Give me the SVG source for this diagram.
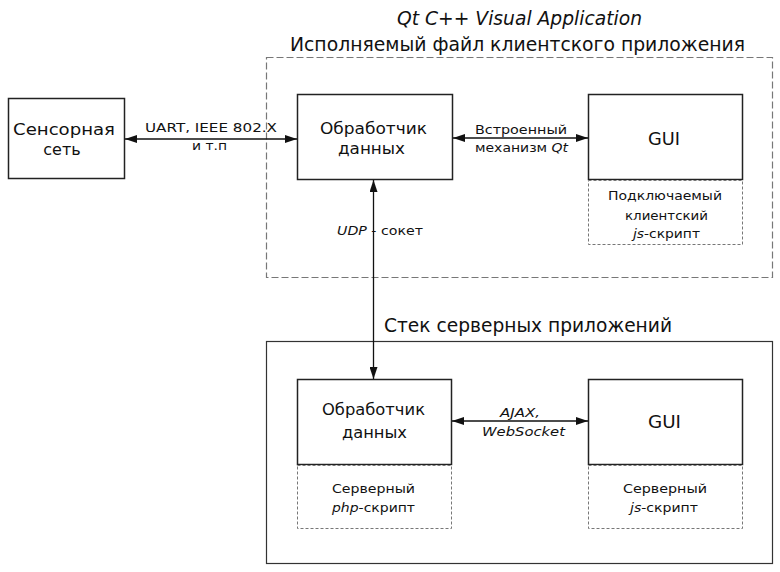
<svg xmlns="http://www.w3.org/2000/svg" width="780" height="572" viewBox="0 0 780 572">
<defs>
<style>
text{font-family:"DejaVu Sans","Liberation Sans",Arial,sans-serif;fill:#111;text-anchor:middle}
.t{font-size:20px}
.n{font-size:16px}
.s{font-size:12.5px}
.g{font-size:17px}
.box{fill:#fff;stroke:#222;stroke-width:1.5}
.sub{fill:#fff;stroke:#777;stroke-width:1;stroke-dasharray:3,2}
.frame{fill:none;stroke:#777;stroke-width:1.2;stroke-dasharray:7,3}
.frame2{fill:none;stroke:#333;stroke-width:1.2}
.con{fill:none;stroke:#111;stroke-width:1.3}
</style>
<marker id="ah" viewBox="0 0 12 8" refX="12" refY="4" markerWidth="12" markerHeight="8" markerUnits="userSpaceOnUse" orient="auto-start-reverse">
<path d="M0,0 L12,4 L0,8 Z" fill="#111"/>
</marker>
</defs>
<rect width="780" height="572" fill="#fff"/>

<g id="client-frame">
<rect class="frame" x="266.5" y="57.5" width="506" height="220"/>
<text class="t" x="519.5" y="25" font-style="italic" textLength="245" lengthAdjust="spacingAndGlyphs">Qt C++ Visual Application</text>
<text class="t" x="517.5" y="51" textLength="455" lengthAdjust="spacingAndGlyphs">Исполняемый файл клиентского приложения</text>
</g>

<g id="server-frame">
<rect class="frame2" x="266.5" y="341.5" width="506" height="222"/>
<text class="t" x="528" y="332" textLength="288" lengthAdjust="spacingAndGlyphs">Стек серверных приложений</text>
</g>

<g id="sensor">
<rect class="box" x="8.5" y="98.5" width="116" height="80"/>
<text class="n" x="64" y="135" textLength="102" lengthAdjust="spacingAndGlyphs">Сенсорная</text>
<text class="n" x="62" y="155">сеть</text>
</g>

<g id="client-handler">
<rect class="box" x="297.5" y="94.5" width="155" height="85"/>
<text class="n" x="373.5" y="134" textLength="107" lengthAdjust="spacingAndGlyphs">Обработчик</text>
<text class="n" x="371.5" y="154" textLength="67" lengthAdjust="spacingAndGlyphs">данных</text>
</g>

<g id="client-gui">
<rect class="box" x="588.5" y="94.5" width="154" height="85"/>
<text class="g" x="664" y="145" textLength="32" lengthAdjust="spacingAndGlyphs">GUI</text>
</g>

<g id="client-js">
<rect class="sub" x="588.5" y="180.5" width="154" height="64"/>
<text class="s" x="665" y="200" textLength="114" lengthAdjust="spacingAndGlyphs">Подключаемый</text>
<text class="s" x="666.5" y="220" textLength="83" lengthAdjust="spacingAndGlyphs">клиентский</text>
<text class="s" x="666.5" y="238" textLength="67" lengthAdjust="spacingAndGlyphs"><tspan font-style="italic">js</tspan>-скрипт</text>
</g>

<g id="server-handler">
<rect class="box" x="297.5" y="379.5" width="154" height="85"/>
<text class="n" x="373.5" y="415" textLength="103" lengthAdjust="spacingAndGlyphs">Обработчик</text>
<text class="n" x="374.5" y="438" textLength="65" lengthAdjust="spacingAndGlyphs">данных</text>
</g>

<g id="server-php">
<rect class="sub" x="297.5" y="465.5" width="154" height="63"/>
<text class="s" x="373.5" y="493" textLength="83" lengthAdjust="spacingAndGlyphs">Серверный</text>
<text class="s" x="373.5" y="512" textLength="83" lengthAdjust="spacingAndGlyphs"><tspan font-style="italic">php</tspan>-скрипт</text>
</g>

<g id="server-gui">
<rect class="box" x="588.5" y="379.5" width="154" height="85"/>
<text class="g" x="664.5" y="428" textLength="33" lengthAdjust="spacingAndGlyphs">GUI</text>
</g>

<g id="server-js">
<rect class="sub" x="588.5" y="465.5" width="154" height="63"/>
<text class="s" x="665" y="493" textLength="84" lengthAdjust="spacingAndGlyphs">Серверный</text>
<text class="s" x="664" y="512" textLength="68" lengthAdjust="spacingAndGlyphs"><tspan font-style="italic">js</tspan>-скрипт</text>
</g>

<g id="connectors">
<line class="con" x1="125" y1="139" x2="297" y2="139" marker-start="url(#ah)" marker-end="url(#ah)"/>
<text class="s" x="211" y="132" textLength="132" lengthAdjust="spacingAndGlyphs">UART, IEEE 802.X</text>
<text class="s" x="209.5" y="150" textLength="35" lengthAdjust="spacingAndGlyphs">и т.п</text>

<line class="con" x1="453" y1="138" x2="588" y2="138" marker-start="url(#ah)" marker-end="url(#ah)"/>
<text class="s" x="521" y="134" textLength="92" lengthAdjust="spacingAndGlyphs">Встроенный</text>
<text class="s" x="521.5" y="152" textLength="93" lengthAdjust="spacingAndGlyphs">механизм <tspan font-style="italic">Qt</tspan></text>

<line class="con" x1="373.5" y1="180" x2="373.5" y2="379" marker-start="url(#ah)" marker-end="url(#ah)"/>
<rect x="334" y="223" width="36" height="16" fill="#fff"/>
<rect x="378" y="223" width="48" height="16" fill="#fff"/>
<text class="s" x="380" y="235" textLength="86" lengthAdjust="spacingAndGlyphs"><tspan font-style="italic">UDP</tspan> - сокет</text>

<line class="con" x1="452" y1="421" x2="588" y2="421" marker-start="url(#ah)" marker-end="url(#ah)"/>
<text class="s" x="520" y="417" font-style="italic" textLength="40" lengthAdjust="spacingAndGlyphs">AJAX,</text>
<text class="s" x="523.5" y="436" font-style="italic" textLength="83" lengthAdjust="spacingAndGlyphs">WebSocket</text>
</g>
</svg>
